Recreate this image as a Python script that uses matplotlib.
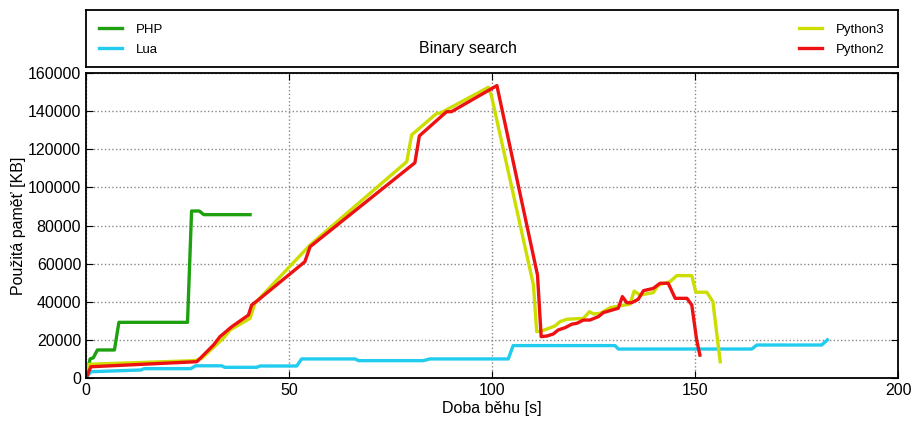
import numpy as np
import matplotlib
matplotlib.use('Agg')
import matplotlib.pyplot as plt

plt.rcParams['font.family'] = ['Liberation Sans', 'DejaVu Sans']

# PHP
php_t = [0, 1.0, 1.8, 2.8, 7.0, 8.1, 25.0, 26.0, 27.9, 29.0, 40.4]
php_m = [0, 10000, 10600, 14700, 14700, 29200, 29200, 87600, 87600, 85700, 85700]

# Lua
lua_t = [0, 1.2, 13.5, 14.3, 25.8, 27.0, 33.4, 34.2, 42.0, 42.9, 51.9, 53.1, 66.3, 67.1,
         83.1, 84.7, 104.0, 105.2, 130.3, 131.1, 164.0, 165.2, 181.2, 182.6]
lua_m = [0, 3300, 4200, 4900, 4900, 6400, 6400, 5600, 5600, 6300, 6300, 10000, 10000, 9100,
         9100, 10000, 10000, 17000, 17000, 15200, 15200, 17300, 17300, 20000]

# Python3
py3_t = [0, 0.7, 26.8, 28.5, 33.8, 35.5, 40.4, 41.6, 55.2, 79.0, 80.2, 86.4, 87.2, 99.1,
         99.9, 110.2, 111.0, 112.2, 113.9, 115.5, 116.7, 118.4, 122.5, 124.0, 125.0, 126.6,
         129.1, 134.0, 135.0, 136.5, 139.7, 141.0, 143.8, 145.5, 149.2, 150.2, 152.9, 154.4,
         156.2]
py3_m = [0, 7200, 9100, 10300, 20800, 25200, 31300, 39200, 69800, 113500, 127500, 138900,
         138900, 152500, 147600, 48800, 24300, 24700, 26000, 27300, 29500, 30800, 31300,
         34800, 33600, 33900, 36900, 38800, 45600, 43500, 44800, 48800, 50500, 53700, 53700,
         45000, 45000, 40000, 8500]

# Python2
py2_t = [0, 1.2, 27.3, 31.4, 33.0, 35.9, 40.0, 40.8, 42.4, 53.9, 55.2, 81.0, 82.1, 88.8,
         90.0, 101.2, 111.2, 112.1, 113.5, 115.1, 116.3, 118.0, 119.6, 120.9, 122.5, 124.1,
         126.2, 127.4, 131.1, 132.1, 133.2, 134.4, 136.0, 137.3, 139.7, 141.4, 143.4, 145.1,
         148.0, 149.2, 150.4, 151.2]
py2_m = [0, 5900, 8550, 17300, 21700, 26900, 33000, 38300, 40900, 61000, 68900, 112900,
         127000, 139700, 139700, 153400, 54000, 21700, 22000, 23100, 25200, 26400, 28200,
         28700, 30400, 30400, 32200, 34300, 36600, 42700, 39500, 39500, 41300, 45800, 47000,
         49700, 49700, 41800, 41800, 38300, 19900, 12000]

fig = plt.figure(figsize=(9.16, 4.23), dpi=100)
ax = fig.add_axes([0.0939, 0.1064, 0.8865, 0.721])
lax = fig.add_axes([0.0939, 0.842, 0.8865, 0.134])

lw = 2.4
l1, = ax.plot(php_t, php_m, color='#1fa010', lw=lw, label='PHP')
l2, = ax.plot(lua_t, lua_m, color='#22ccee', lw=lw, label='Lua')
l3, = ax.plot(py3_t, py3_m, color='#ccdd00', lw=lw, label='Python3')
l4, = ax.plot(py2_t, py2_m, color='#ee1111', lw=lw, label='Python2')

ax.set_xlim(0, 200)
ax.set_ylim(0, 160000)
ax.set_xticks([0, 50, 100, 150, 200])
ax.set_yticks(np.arange(0, 160001, 20000))
ax.grid(True, linestyle=':', color='#888888', linewidth=1)
ax.tick_params(direction='in', labelsize=11.5, top=True, right=True, length=5)
ax.set_xlabel('Doba běhu [s]', fontsize=11.5, labelpad=2)
ax.set_ylabel('Použitá paměť [KB]', fontsize=11.5)
ax.yaxis.set_label_coords(-0.074, 0.5)
for s in ax.spines.values():
    s.set_linewidth(1.3)

lax.set_xticks([])
lax.set_yticks([])
for s in lax.spines.values():
    s.set_linewidth(1.3)
leg_kw = dict(frameon=False, fontsize=9.5, handlelength=1.7, handletextpad=1.1,
              borderaxespad=0.6, labelspacing=0.6)
leg1 = lax.legend(handles=[l1, l2], loc='upper left', **leg_kw)
lax.add_artist(leg1)
lax.legend(handles=[l3, l4], loc='upper right', **leg_kw)
lax.text(0.47, 0.33, 'Binary search', transform=lax.transAxes, ha='center', va='center',
         fontsize=11.5)

fig.savefig('out.png', dpi=100)
